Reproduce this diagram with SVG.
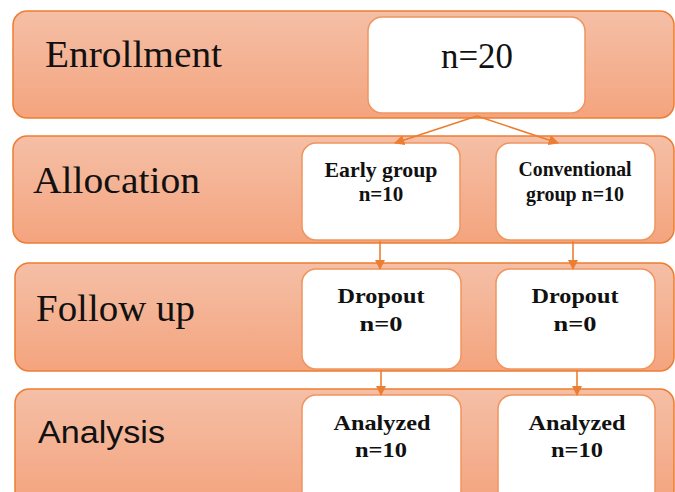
<svg xmlns="http://www.w3.org/2000/svg" width="675" height="492" viewBox="0 0 675 492">
<defs>
<linearGradient id="bg" x1="0" y1="0" x2="0" y2="1">
<stop offset="0" stop-color="#f5bfa6"/>
<stop offset="1" stop-color="#f4a47e"/>
</linearGradient>
<marker id="ah" viewBox="0 0 10 10" refX="9" refY="5" markerWidth="6.5" markerHeight="6.5" orient="auto" markerUnits="strokeWidth">
<path d="M0,0 L10,5 L0,10 z" fill="#ed7d31"/>
</marker>
<style>
.band{fill:url(#bg);stroke:#ed7d31;stroke-width:1.5}
.box{fill:#fff;stroke:#f0955f;stroke-width:1.5}
.lbl{font-family:"Liberation Serif","Times New Roman",serif;font-size:37px;fill:#111}
.lbs{font-family:"Liberation Sans",Arial,sans-serif;font-size:31px;fill:#111}
.bt{font-family:"Liberation Serif","Times New Roman",serif;font-weight:bold;font-size:21px;fill:#111;text-anchor:middle}
.con{stroke:#ed7d31;stroke-width:1.6;fill:none;marker-end:url(#ah)}
</style>
</defs>
<rect width="675" height="492" fill="#fff"/>
<g id="band-enrollment">
<rect class="band" x="13" y="11" width="661" height="107" rx="14"/>
<text class="lbl" x="45" y="67" textLength="177" lengthAdjust="spacingAndGlyphs">Enrollment</text>
</g>
<g id="band-allocation">
<rect class="band" x="13" y="136" width="661" height="107" rx="14"/>
<text class="lbl" x="33" y="193" font-size="41" textLength="167" lengthAdjust="spacingAndGlyphs">Allocation</text>
</g>
<g id="band-followup">
<rect class="band" x="15" y="263" width="659" height="108" rx="14"/>
<text class="lbl" x="36" y="321" font-size="39" textLength="159" lengthAdjust="spacingAndGlyphs">Follow up</text>
</g>
<g id="band-analysis">
<rect class="band" x="15" y="389" width="659" height="115" rx="14"/>
<text class="lbs" x="38" y="443" textLength="127" lengthAdjust="spacingAndGlyphs">Analysis</text>
</g>
<g id="node-enroll">
<rect class="box" x="368" y="17" width="217" height="96" rx="14"/>
<text x="477" y="68" font-family="Liberation Serif,Times New Roman,serif" font-size="35" fill="#111" text-anchor="middle" textLength="72" lengthAdjust="spacingAndGlyphs">n=20</text>
</g>
<g id="node-early">
<rect class="box" x="302" y="143" width="158" height="97" rx="14"/>
<text class="bt" x="381" y="177" textLength="113" lengthAdjust="spacingAndGlyphs">Early group</text>
<text class="bt" x="381" y="201">n=10</text>
</g>
<g id="node-conv">
<rect class="box" x="496" y="143" width="159" height="97" rx="14"/>
<text class="bt" x="575" y="176" font-size="19" textLength="113" lengthAdjust="spacingAndGlyphs">Conventional</text>
<text class="bt" x="575" y="201" font-size="19" textLength="98" lengthAdjust="spacingAndGlyphs">group n=10</text>
</g>
<g id="node-drop1">
<rect class="box" x="302" y="269" width="159" height="100" rx="14"/>
<text class="bt" x="381" y="303" textLength="87" lengthAdjust="spacingAndGlyphs">Dropout</text>
<text class="bt" x="381" y="331" textLength="43" lengthAdjust="spacingAndGlyphs">n=0</text>
</g>
<g id="node-drop2">
<rect class="box" x="496" y="269" width="159" height="100" rx="14"/>
<text class="bt" x="575" y="303" textLength="87" lengthAdjust="spacingAndGlyphs">Dropout</text>
<text class="bt" x="575" y="331" textLength="43" lengthAdjust="spacingAndGlyphs">n=0</text>
</g>
<g id="node-an1">
<rect class="box" x="302" y="395" width="159" height="110" rx="14"/>
<text class="bt" x="382" y="430" font-size="22" textLength="97" lengthAdjust="spacingAndGlyphs">Analyzed</text>
<text class="bt" x="381" y="457" font-size="22" textLength="52" lengthAdjust="spacingAndGlyphs">n=10</text>
</g>
<g id="node-an2">
<rect class="box" x="498" y="395" width="157" height="110" rx="14"/>
<text class="bt" x="577" y="430" font-size="22" textLength="97" lengthAdjust="spacingAndGlyphs">Analyzed</text>
<text class="bt" x="577" y="457" font-size="22" textLength="52" lengthAdjust="spacingAndGlyphs">n=10</text>
</g>
<g id="connectors">
<line class="con" x1="477" y1="116" x2="395" y2="143"/>
<line class="con" x1="477" y1="116" x2="558" y2="143"/>
<line class="con" x1="380" y1="241" x2="380" y2="269"/>
<line class="con" x1="573" y1="241" x2="573" y2="269"/>
<line class="con" x1="381" y1="370" x2="381" y2="395"/>
<line class="con" x1="577" y1="370" x2="577" y2="395"/>
</g>
</svg>
